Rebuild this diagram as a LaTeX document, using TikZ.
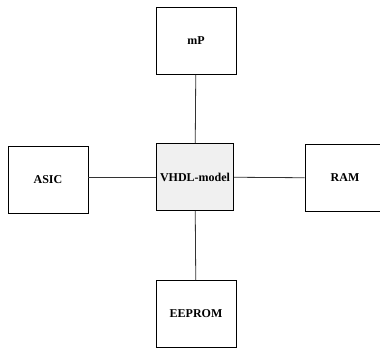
\documentclass[tikz,border=0pt]{standalone}
\usepackage{fontspec}
\setmainfont{Liberation Serif}
\begin{document}
\begin{tikzpicture}[x=1pt, y=-1pt,
    unit/.style={draw, rectangle, line width=0.7pt, minimum width=80pt, minimum height=67pt, font=\fontsize{12}{14}\selectfont\bfseries, fill=white, inner sep=2pt},
    core/.style={unit, minimum width=77pt, fill=gray!12},
    link/.style={draw=black!80, line width=0.8pt}
]
\useasboundingbox (0,0) rectangle (380,350);

% Kern
\node[core] (vhdl) at (195, 177) {VHDL-model};

% Umgebung
\node[unit] (mp)     at (196, 41)  {mP};
\node[unit] (asic)   at (48, 180)  {ASIC};
\node[unit] (ram)    at (345, 178) {RAM};
\node[unit] (eeprom) at (196, 314) {EEPROM};

\draw[link] (vhdl) -- (mp);
\draw[link] (vhdl.west) -- (asic.east |- vhdl.west);
\draw[link] (vhdl) -- (ram);
\draw[link] (vhdl) -- (eeprom);
\end{tikzpicture}
\end{document}
